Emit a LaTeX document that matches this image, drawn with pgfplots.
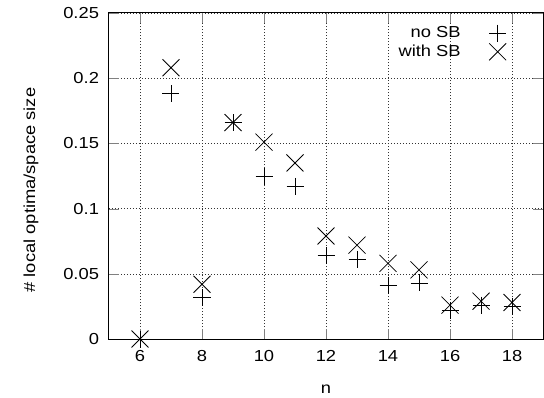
\documentclass[border=0pt]{standalone}
\usepackage{fontspec}
\setmainfont{Liberation Sans}[FakeStretch=1.15]
\usepackage{pgfplots}
\pgfplotsset{compat=1.18}
\pgfplotstableread{
n  y
6  0.000
7  0.188
8  0.032
9  0.166
10 0.125
11 0.117
12 0.064
13 0.061
14 0.041
15 0.043
16 0.022
17 0.026
18 0.025
}\noSB
\pgfplotstableread{
n  y
6  0.000
7  0.208
8  0.042
9  0.166
10 0.151
11 0.135
12 0.079
13 0.072
14 0.058
15 0.053
16 0.026
17 0.029
18 0.028
}\withSB
\begin{document}
\begin{tikzpicture}
\begin{axis}[
  scale only axis, width=434bp, height=326bp,
  xmin=5, xmax=19, ymin=0, ymax=0.25,
  xtick={6,8,10,12,14,16,18},
  xticklabels={6,8,10,12,14,16,18},
  ytick={0,0.05,0.1,0.15,0.2,0.25},
  yticklabels={0,0.05,0.1,0.15,0.2,0.25},
  /pgf/number format/assume math mode=true,
  tick align=inside, major tick length=10bp,
  grid=major,
  major grid style={black!80, dash pattern=on 0.8bp off 2.2bp, line width=0.6bp},
  axis line style={line width=1bp},
  font=\fontsize{16}{19}\selectfont,
  tick label style={font=\fontsize{16}{19}\selectfont},
  xticklabel style={yshift=-8bp},
  yticklabel style={xshift=-6.5bp},
  xlabel={n}, ylabel={\# local optima/space size},
  xlabel style={at={(axis description cs:0.5,-0.153)}, anchor=center},
  ylabel style={at={(axis description cs:-0.18,0.457)}, anchor=center},
  clip=false,
  legend cell align=right,
  legend plot pos=right,
  legend image code/.code={%
    \path[draw=none] (0bp,0bp) -- (50bp,0bp);
    \draw[#1, only marks, overlay] plot coordinates {(37bp,0bp)};},
  legend style={draw=none, fill=none, inner sep=0pt,
    nodes={inner sep=0pt},
    at={(axis description cs:0.926,0.9586)}, anchor=north east,
    row sep=6bp, font=\fontsize{16}{19}\selectfont},
]
\addplot[only marks, mark=+, mark size=8.5bp, line width=0.8bp, black] table[x=n,y=y] {\noSB};
\addlegendentry{no SB}
\addplot[only marks, mark=x, mark size=12bp, line width=0.8bp, black] table[x=n,y=y] {\withSB};
\addlegendentry{with SB}
\coordinate (A) at (axis description cs:0,0);
\coordinate (B) at (axis description cs:1,1);
\end{axis}
\pgfresetboundingbox
\path (A) ++(-109bp,-59bp) (B) ++(1bp,13bp);
\end{tikzpicture}
\end{document}
